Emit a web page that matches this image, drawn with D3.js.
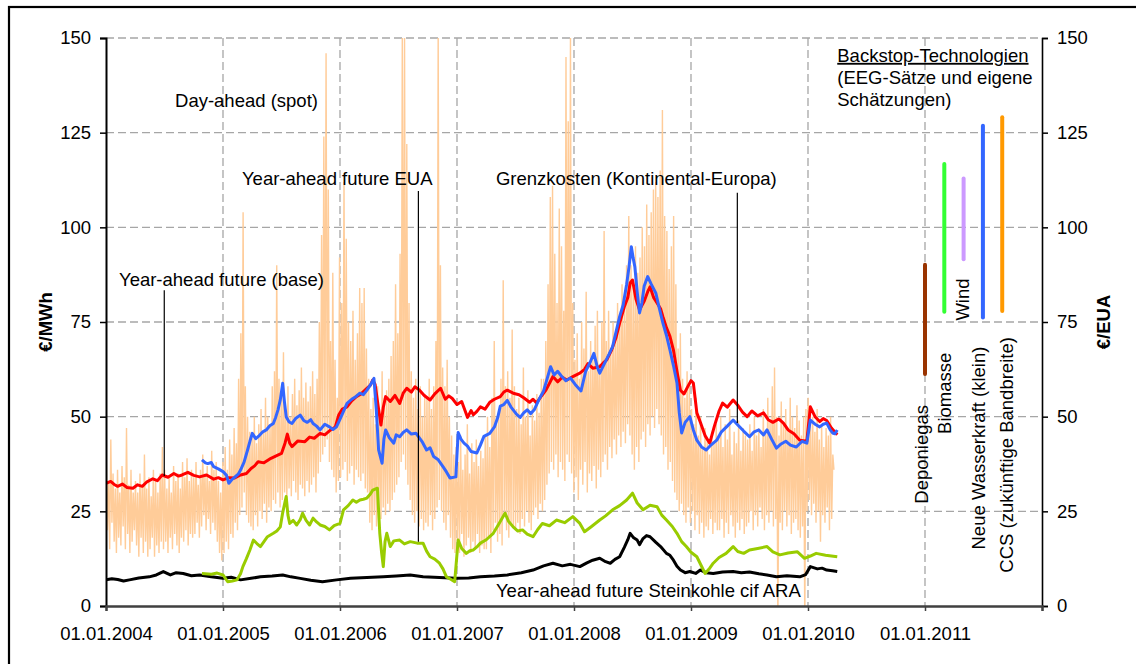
<!DOCTYPE html>
<html>
<head>
<meta charset="utf-8">
<script src="https://cdn.jsdelivr.net/npm/d3@7/dist/d3.min.js"></script>
<style>
  body { margin: 0; background: #fff; }
  svg { display: block; font-family: "Liberation Sans", Arial, sans-serif; }
</style>
</head>
<body>
<script>
// time is given as decimal years
var yearTicks = [2004, 2005, 2006, 2007, 2008, 2009, 2010, 2011, 2012];
var valueTicks = [0, 25, 50, 75, 100, 125, 150];

// Day-ahead (spot), weekly high / low, one row per quarter (2004 Q1 .. 2010 Q1)
var spotHi = [
  38, 33, 44, 35, 31, 36, 30, 37, 34, 47, 32, 36, 30,
  33, 30, 35, 32, 40, 31, 34, 29, 36, 33, 30, 35, 42,
  36, 31, 34, 30, 37, 33, 35, 31, 38, 34, 39, 33, 36,
  34, 38, 32, 36, 40, 35, 37, 33, 41, 36, 38, 33, 30,
  38, 42, 36, 44, 40, 47, 43, 60, 72, 104, 58, 50, 46,
  45, 50, 43, 48, 52, 46, 55, 50, 48, 58, 62, 90, 60,
  55, 67, 52, 58, 50, 56, 60, 53, 57, 63, 55, 59, 54,
  58, 62, 56, 60, 75, 98, 124, 146, 110, 70, 88, 65, 55,
  92, 80, 112, 97, 75, 70, 78, 65, 72, 84, 80, 84, 68,
  60, 52, 55, 48, 58, 50, 62, 55, 57, 60, 66, 70, 85,
  72, 93, 152, 150, 122, 80, 62, 55, 60, 52, 58, 50, 56,
  55, 60, 52, 58, 70, 152, 90, 63, 58, 65, 50, 45, 40,
  42, 38, 45, 36, 40, 48, 35, 43, 38, 44, 37, 41, 39,
  45, 50, 42, 55, 70, 48, 52, 60, 86, 58, 62, 55, 73,
  58, 52, 55, 48, 63, 50, 57, 45, 53, 49, 56, 51, 60,
  60, 70, 85, 108, 111, 93, 80, 105, 95, 78, 145, 128, 151,
  80, 65, 72, 60, 75, 68, 83, 62, 70, 66, 74, 78, 64,
  75, 99, 70, 78, 68, 75, 72, 80, 76, 85, 78, 90, 103,
  90, 85, 95, 88, 92, 100, 95, 106, 98, 104, 110, 112, 108,
  115, 131, 103, 99, 89, 95, 103, 85, 68, 72, 60, 55, 62,
  58, 52, 48, 55, 45, 50, 42, 47, 44, 40, 46, 43, 48,
  45, 50, 42, 48, 44, 52, 40, 46, 43, 49, 41, 47, 45,
  44, 48, 41, 50, 45, 47, 42, 52, 46, 55, 49, 58, 63,
  50, 45, 54, 48, 52, 46, 55, 50, 47, 53, 49, 45, 50,
  52, 55, 48, 50, 46, 52, 44, 48, 42, 47, 45, 50, 40
];
var spotLo = [
  20, 15, 22, 17, 14, 18, 16, 21, 15, 19, 14, 17, 20,
  16, 13, 18, 14, 17, 13, 15, 18, 13, 16, 14, 17, 15,
  17, 14, 18, 15, 19, 16, 14, 18, 17, 20, 16, 19, 18,
  19, 22, 18, 21, 24, 20, 23, 19, 22, 20, 17, 14, 12,
  14, 17, 15, 19, 18, 22, 20, 24, 26, 30, 24, 22, 21,
  20, 24, 21, 25, 23, 27, 22, 26, 25, 28, 27, 30, 26,
  28, 30, 27, 31, 29, 33, 30, 28, 32, 31, 29, 33, 30,
  32, 34, 30, 35, 38, 40, 42, 44, 38, 36, 34, 30, 33,
  34, 36, 38, 33, 35, 37, 32, 36, 34, 33, 35, 31, 30,
  22, 20, 24, 21, 25, 23, 26, 24, 27, 25, 28, 30, 32,
  34, 38, 40, 36, 32, 28, 24, 22, 25, 21, 23, 20, 22,
  21, 24, 20, 23, 26, 28, 25, 22, 20, 24, 18, 15, 14,
  17, 14, 19, 13, 16, 18, 14, 17, 15, 19, 14, 16, 15,
  15, 18, 14, 20, 22, 17, 19, 16, 24, 20, 18, 22, 21,
  20, 22, 19, 23, 21, 25, 22, 20, 24, 26, 23, 27, 25,
  28, 32, 35, 38, 36, 40, 34, 38, 36, 33, 40, 38, 35,
  30, 34, 28, 36, 32, 38, 30, 35, 33, 37, 31, 36, 34,
  38, 40, 36, 42, 39, 44, 40, 45, 42, 46, 43, 48, 45,
  40, 36, 42, 38, 44, 46, 42, 48, 45, 50, 47, 52, 48,
  45, 40, 42, 36, 38, 33, 30, 28, 25, 27, 24, 22, 26,
  22, 25, 20, 24, 19, 22, 18, 21, 20, 23, 19, 22, 20,
  20, 23, 18, 22, 19, 24, 21, 18, 22, 20, 23, 19, 21,
  22, 25, 20, 24, 21, 26, 23, 20, 24, 22, 25, 21, 23,
  -5, 22, 20, 25, 21, 24, 19, 22, 23, 20, 18, 21, -5,
  25, 28, 24, 27, 22, 25, 17, 24, 22, 26, 20, 23, 36
];

// Year-ahead future (base), €/MWh
var baseFuture = [
  [2004.00, 32.4], [2004.04, 32.9], [2004.07, 32.1], [2004.10, 31.6], [2004.14, 32.2], [2004.18, 31.3],
  [2004.23, 31.1], [2004.27, 32.0], [2004.31, 31.6], [2004.35, 32.8], [2004.40, 33.6], [2004.44, 33.1],
  [2004.48, 34.6], [2004.53, 34.0], [2004.58, 35.0], [2004.62, 34.3], [2004.65, 34.6], [2004.70, 35.3],
  [2004.75, 34.5], [2004.80, 34.1], [2004.86, 34.6], [2004.92, 33.5], [2004.96, 33.9], [2005.00, 33.3],
  [2005.05, 33.9], [2005.10, 33.8], [2005.15, 34.6], [2005.20, 35.0], [2005.24, 36.3], [2005.27, 37.0],
  [2005.30, 38.1], [2005.35, 37.8], [2005.41, 39.0], [2005.45, 39.6], [2005.50, 40.3], [2005.53, 43.0],
  [2005.55, 45.4], [2005.57, 43.0], [2005.59, 42.1], [2005.64, 43.6], [2005.70, 43.4], [2005.74, 44.6],
  [2005.78, 44.3], [2005.83, 45.6], [2005.87, 45.2], [2005.92, 46.5], [2005.96, 47.3], [2005.99, 50.5],
  [2006.02, 52.0], [2006.06, 52.6], [2006.10, 54.2], [2006.14, 55.3], [2006.18, 56.0], [2006.23, 57.5],
  [2006.26, 58.3], [2006.28, 59.7], [2006.30, 58.5], [2006.33, 52.0], [2006.35, 47.8], [2006.37, 52.5],
  [2006.39, 55.3], [2006.43, 54.0], [2006.47, 55.6], [2006.51, 53.5], [2006.54, 56.2], [2006.57, 57.5],
  [2006.61, 56.5], [2006.64, 57.9], [2006.68, 57.0], [2006.72, 55.6], [2006.77, 54.4], [2006.81, 56.0],
  [2006.86, 57.5], [2006.90, 54.6], [2006.93, 55.5], [2006.96, 54.8], [2007.00, 53.2], [2007.04, 54.0],
  [2007.07, 51.5], [2007.09, 49.8], [2007.12, 51.6], [2007.14, 50.5], [2007.17, 51.4], [2007.20, 52.6],
  [2007.24, 52.0], [2007.28, 53.8], [2007.32, 54.6], [2007.37, 55.3], [2007.40, 56.5], [2007.43, 57.0],
  [2007.48, 56.2], [2007.53, 55.8], [2007.57, 55.0], [2007.62, 53.8], [2007.65, 54.6], [2007.68, 53.6],
  [2007.72, 55.4], [2007.76, 57.0], [2007.79, 58.8], [2007.82, 60.6], [2007.86, 59.2], [2007.90, 60.4],
  [2007.94, 59.7], [2007.99, 60.6], [2008.05, 61.5], [2008.09, 62.5], [2008.12, 64.0], [2008.16, 62.8],
  [2008.22, 63.2], [2008.25, 64.2], [2008.28, 65.0], [2008.32, 67.5], [2008.36, 71.0], [2008.39, 74.7],
  [2008.43, 79.0], [2008.46, 81.5], [2008.48, 85.3], [2008.50, 86.1], [2008.53, 81.0], [2008.56, 78.2],
  [2008.60, 80.5], [2008.63, 83.0], [2008.65, 84.3], [2008.68, 81.5], [2008.71, 80.0], [2008.74, 78.5],
  [2008.76, 76.4], [2008.79, 73.5], [2008.82, 71.2], [2008.85, 67.6], [2008.88, 62.0], [2008.91, 57.0],
  [2008.94, 56.0], [2008.97, 57.8], [2009.00, 59.5], [2009.02, 58.9], [2009.05, 51.0], [2009.08, 48.5],
  [2009.12, 45.0], [2009.16, 43.0], [2009.20, 47.5], [2009.24, 51.5], [2009.27, 53.6], [2009.31, 52.5],
  [2009.36, 54.4], [2009.40, 53.0], [2009.44, 51.2], [2009.48, 50.0], [2009.52, 51.5], [2009.57, 50.2],
  [2009.62, 51.0], [2009.66, 49.2], [2009.70, 48.5], [2009.75, 49.4], [2009.79, 48.3], [2009.83, 46.5],
  [2009.88, 45.5], [2009.93, 43.8], [2009.99, 43.5], [2010.02, 52.6], [2010.06, 50.0], [2010.10, 48.7],
  [2010.13, 49.5], [2010.16, 49.0], [2010.20, 47.0], [2010.25, 45.2]
];

// Grenzkosten (Kontinental-Europa)
var marginalCost = [
  [2004.82, 38.6], [2004.85, 37.8], [2004.87, 37.6], [2004.90, 37.9], [2004.92, 36.8], [2004.96, 36.2],
  [2005.00, 35.5], [2005.03, 34.5], [2005.05, 32.4], [2005.08, 33.5], [2005.10, 34.0], [2005.13, 34.8],
  [2005.15, 35.9], [2005.18, 38.0], [2005.21, 41.2], [2005.23, 43.5], [2005.25, 45.6], [2005.28, 44.2],
  [2005.31, 45.0], [2005.34, 46.0], [2005.37, 46.5], [2005.40, 47.6], [2005.43, 48.2], [2005.45, 49.8],
  [2005.47, 51.8], [2005.49, 54.5], [2005.51, 58.8], [2005.525, 54.0], [2005.54, 50.0], [2005.565, 48.6],
  [2005.59, 48.2], [2005.62, 49.5], [2005.66, 50.4], [2005.69, 49.0], [2005.72, 48.5], [2005.75, 49.2],
  [2005.77, 48.2], [2005.80, 47.5], [2005.83, 46.5], [2005.87, 48.0], [2005.91, 47.3], [2005.94, 46.6],
  [2005.97, 47.3], [2006.01, 50.0], [2006.06, 53.5], [2006.10, 54.6], [2006.14, 55.4], [2006.17, 56.2],
  [2006.20, 55.8], [2006.23, 57.0], [2006.26, 58.4], [2006.29, 60.1], [2006.31, 52.0], [2006.33, 41.2],
  [2006.36, 37.7], [2006.375, 44.0], [2006.39, 46.5], [2006.42, 44.5], [2006.46, 43.0], [2006.48, 45.2],
  [2006.51, 44.7], [2006.54, 45.8], [2006.57, 46.5], [2006.61, 45.4], [2006.65, 45.6], [2006.70, 43.5],
  [2006.74, 41.2], [2006.77, 41.8], [2006.80, 39.5], [2006.84, 38.6], [2006.88, 36.8], [2006.91, 35.4],
  [2006.94, 33.8], [2006.99, 34.1], [2007.01, 45.8], [2007.035, 44.0], [2007.06, 43.0], [2007.09, 42.2],
  [2007.12, 40.8], [2007.17, 40.4], [2007.20, 42.5], [2007.23, 44.8], [2007.28, 45.6], [2007.32, 47.3],
  [2007.35, 50.0], [2007.37, 52.8], [2007.40, 53.2], [2007.43, 54.3], [2007.46, 52.6], [2007.48, 51.8],
  [2007.51, 50.6], [2007.54, 49.8], [2007.57, 51.0], [2007.60, 51.8], [2007.63, 50.8], [2007.66, 51.8],
  [2007.70, 54.5], [2007.74, 56.8], [2007.77, 60.0], [2007.80, 63.2], [2007.83, 61.0], [2007.86, 62.0],
  [2007.89, 60.8], [2007.93, 59.5], [2007.97, 60.2], [2008.01, 58.5], [2008.06, 56.8], [2008.10, 62.0],
  [2008.14, 64.5], [2008.17, 66.7], [2008.20, 63.0], [2008.22, 61.5], [2008.26, 64.0], [2008.30, 66.5],
  [2008.33, 68.5], [2008.36, 72.5], [2008.39, 76.4], [2008.42, 79.5], [2008.45, 85.0], [2008.47, 89.5],
  [2008.49, 94.9], [2008.505, 92.0], [2008.52, 89.6], [2008.54, 83.0], [2008.56, 77.4], [2008.58, 80.0],
  [2008.60, 84.5], [2008.63, 87.0], [2008.66, 85.0], [2008.70, 82.6], [2008.73, 78.5], [2008.76, 74.7],
  [2008.79, 71.5], [2008.82, 67.6], [2008.85, 63.5], [2008.88, 58.9], [2008.90, 51.0], [2008.92, 45.7],
  [2008.95, 48.5], [2008.99, 50.0], [2009.02, 46.5], [2009.05, 43.8], [2009.09, 42.0], [2009.13, 41.2],
  [2009.17, 42.5], [2009.22, 43.8], [2009.26, 46.0], [2009.31, 47.5], [2009.36, 49.1], [2009.40, 47.8],
  [2009.45, 46.2], [2009.50, 44.7], [2009.54, 46.0], [2009.58, 46.5], [2009.62, 45.2], [2009.65, 46.5],
  [2009.69, 44.0], [2009.73, 41.7], [2009.77, 42.8], [2009.81, 43.5], [2009.85, 42.5], [2009.90, 42.0],
  [2009.95, 43.5], [2009.99, 43.0], [2010.02, 49.1], [2010.06, 48.0], [2010.10, 47.3], [2010.13, 48.0],
  [2010.16, 48.3], [2010.19, 46.5], [2010.21, 45.7], [2010.23, 45.5], [2010.25, 46.5]
];

// Year-ahead future EUA, €/EUA
var euaFuture = [
  [2004.82, 8.6], [2004.90, 8.4], [2004.95, 8.7], [2005.00, 8.2], [2005.04, 6.4], [2005.08, 6.6],
  [2005.12, 6.9], [2005.15, 8.5], [2005.17, 10.4], [2005.20, 12.5], [2005.23, 14.8], [2005.26, 17.4],
  [2005.29, 16.5], [2005.32, 15.7], [2005.35, 17.0], [2005.38, 18.3], [2005.43, 19.2], [2005.46, 19.8],
  [2005.49, 20.9], [2005.51, 24.6], [2005.54, 28.9], [2005.555, 24.0], [2005.57, 21.8], [2005.60, 22.6],
  [2005.63, 21.4], [2005.66, 22.8], [2005.68, 24.5], [2005.71, 22.6], [2005.74, 21.4], [2005.77, 23.2],
  [2005.80, 22.2], [2005.83, 21.4], [2005.87, 21.0], [2005.91, 20.1], [2005.95, 21.2], [2006.00, 21.8],
  [2006.03, 25.4], [2006.07, 26.5], [2006.11, 28.0], [2006.14, 27.4], [2006.17, 28.0], [2006.20, 28.2],
  [2006.23, 28.5], [2006.26, 29.6], [2006.28, 30.6], [2006.32, 31.1], [2006.34, 19.2], [2006.356, 14.0],
  [2006.37, 10.4], [2006.385, 17.0], [2006.40, 19.2], [2006.43, 15.7], [2006.46, 17.2], [2006.51, 17.4],
  [2006.55, 16.4], [2006.60, 17.0], [2006.66, 16.6], [2006.71, 16.6], [2006.74, 14.5], [2006.77, 13.0],
  [2006.81, 12.4], [2006.85, 11.3], [2006.88, 9.8], [2006.91, 7.7], [2006.95, 7.0], [2006.98, 6.4],
  [2007.01, 17.4], [2007.04, 15.2], [2007.08, 13.9], [2007.11, 14.6], [2007.14, 14.8], [2007.17, 15.6],
  [2007.20, 16.6], [2007.25, 17.5], [2007.31, 19.2], [2007.36, 21.8], [2007.41, 24.5], [2007.44, 22.4],
  [2007.48, 20.9], [2007.52, 19.8], [2007.56, 20.1], [2007.60, 19.0], [2007.65, 18.3], [2007.69, 20.2],
  [2007.73, 21.8], [2007.79, 21.2], [2007.85, 22.7], [2007.92, 22.0], [2007.99, 23.6], [2008.05, 21.8],
  [2008.09, 19.6], [2008.15, 21.0], [2008.22, 22.7], [2008.27, 23.8], [2008.33, 25.4], [2008.39, 26.5],
  [2008.45, 28.0], [2008.50, 29.8], [2008.54, 27.2], [2008.59, 25.4], [2008.65, 26.6], [2008.71, 26.2],
  [2008.75, 24.0], [2008.79, 22.7], [2008.84, 21.0], [2008.88, 19.2], [2008.92, 17.0], [2008.96, 15.7],
  [2009.00, 14.2], [2009.05, 13.0], [2009.09, 10.5], [2009.12, 8.6], [2009.16, 10.0], [2009.19, 11.3],
  [2009.24, 12.8], [2009.30, 13.9], [2009.36, 15.7], [2009.40, 14.4], [2009.45, 13.9], [2009.50, 14.8],
  [2009.57, 15.2], [2009.65, 15.7], [2009.70, 14.3], [2009.76, 13.5], [2009.83, 14.0], [2009.91, 14.3],
  [2009.97, 12.6], [2010.02, 13.2], [2010.07, 13.9], [2010.15, 13.4], [2010.25, 13.0]
];

// Year-ahead future Steinkohle cif ARA
var coalFuture = [
  [2004.00, 6.9], [2004.05, 7.2], [2004.10, 7.0], [2004.15, 6.6], [2004.20, 6.9], [2004.28, 7.4],
  [2004.37, 7.7], [2004.43, 8.2], [2004.49, 9.1], [2004.55, 8.2], [2004.60, 8.8], [2004.66, 8.6],
  [2004.73, 8.0], [2004.80, 8.2], [2004.90, 7.7], [2005.00, 7.3], [2005.07, 7.6], [2005.15, 6.9],
  [2005.24, 7.3], [2005.32, 7.7], [2005.42, 7.9], [2005.51, 8.2], [2005.58, 7.7], [2005.66, 7.3],
  [2005.75, 6.8], [2005.85, 6.4], [2005.97, 6.9], [2006.09, 7.3], [2006.23, 7.5], [2006.37, 7.7],
  [2006.48, 7.9], [2006.60, 8.2], [2006.71, 7.7], [2006.85, 7.5], [2006.99, 7.3], [2007.10, 7.4],
  [2007.20, 7.7], [2007.32, 7.9], [2007.43, 8.2], [2007.55, 8.8], [2007.65, 9.5], [2007.74, 10.6],
  [2007.82, 11.3], [2007.90, 10.6], [2007.97, 11.0], [2008.05, 10.4], [2008.11, 11.4], [2008.16, 12.1],
  [2008.22, 12.6], [2008.27, 11.7], [2008.31, 11.3], [2008.35, 12.3], [2008.39, 13.0], [2008.43, 15.5],
  [2008.46, 17.5], [2008.48, 19.2], [2008.51, 18.0], [2008.54, 17.4], [2008.56, 16.2], [2008.59, 17.8],
  [2008.62, 18.6], [2008.65, 18.3], [2008.70, 16.8], [2008.74, 15.7], [2008.79, 13.9], [2008.82, 13.4],
  [2008.85, 12.1], [2008.88, 10.5], [2008.91, 9.5], [2008.95, 8.8], [2008.99, 9.1], [2009.04, 8.6],
  [2009.08, 9.5], [2009.13, 8.8], [2009.19, 8.6], [2009.27, 9.0], [2009.36, 9.1], [2009.43, 8.8],
  [2009.50, 9.0], [2009.58, 8.5], [2009.65, 8.2], [2009.73, 7.7], [2009.82, 8.0], [2009.93, 7.7],
  [2009.98, 8.3], [2010.02, 10.4], [2010.08, 9.8], [2010.12, 10.0], [2010.16, 9.5], [2010.21, 9.3],
  [2010.25, 9.1]
];

// Backstop-Technologien: position (decimal year), low, high
var backstopNames = ["Deponiegas", "Biomasse", "Wind", "Neue Wasserkraft (klein)", "CCS (zukünftige Bandbreite)"];
var backstopYears = [2011.0, 2011.165, 2011.33, 2011.495, 2011.66];
var backstopLow = [61.3, 77.7, 91.6, 76.2, 77.9];
var backstopHigh = [90.1, 116.7, 112.9, 126.8, 129.1];
var backstopColors = ["#993300", "#33ff33", "#cc99ff", "#3366ff", "#ff9900"];

var W = 1136, H = 664;
var plotL = 106, plotR = 1042, plotT = 38, plotB = 606;

var svg = d3.select("body").append("svg")
    .attr("width", W)
    .attr("height", H);

// outer frame (only top and left edge are inside the picture)
svg.append("rect")
    .attr("x", 9).attr("y", 7)
    .attr("width", 1200).attr("height", 700)
    .attr("fill", "none").attr("stroke", "#000").attr("stroke-width", 2.2);

var x = d3.scaleLinear().domain([2004, 2012]).range([plotL, plotR]);
var y = d3.scaleLinear().domain([0, 150]).range([plotB, plotT]);

svg.append("clipPath").attr("id", "plot")
    .append("rect")
    .attr("x", plotL).attr("y", plotT)
    .attr("width", plotR - plotL).attr("height", plotB - plotT);

// grid
var grid = svg.append("g").attr("stroke", "#a6a6a6").attr("stroke-width", 1.3)
    .attr("stroke-dasharray", "8,4");
grid.selectAll("line.h").data(valueTicks.slice(1)).enter().append("line")
    .attr("x1", plotL).attr("x2", plotR)
    .attr("y1", function (d) { return y(d); })
    .attr("y2", function (d) { return y(d); });
grid.selectAll("line.v").data(yearTicks.slice(1, -1)).enter().append("line")
    .attr("y1", plotT).attr("y2", plotB)
    .attr("x1", function (d) { return x(d); })
    .attr("x2", function (d) { return x(d); });

// spot as a weekly zigzag between high and low
var spot = [];
for (var i = 0; i < spotHi.length; i++) {
    spot.push([2004 + (i * 7 + 1) / 365.25, spotHi[i]]);
    spot.push([2004 + (i * 7 + 4.5) / 365.25, spotLo[i]]);
}

var line = d3.line()
    .x(function (d) { return x(d[0]); })
    .y(function (d) { return y(d[1]); });

var plot = svg.append("g").attr("clip-path", "url(#plot)");

plot.append("path").datum(spot)
    .attr("d", line)
    .attr("fill", "none").attr("stroke", "#ffcc99").attr("stroke-width", 1.4);

var series = [
    {data: coalFuture, color: "#000000"},
    {data: euaFuture, color: "#99cc00"},
    {data: baseFuture, color: "#ff0000"},
    {data: marginalCost, color: "#3366ff"}
];
series.forEach(function (s) {
    plot.append("path").datum(s.data)
        .attr("d", line)
        .attr("fill", "none")
        .attr("stroke", s.color)
        .attr("stroke-width", 3)
        .attr("stroke-linejoin", "round");
});

// backstop bars
svg.selectAll("line.backstop").data(backstopYears).enter().append("line")
    .attr("x1", function (d) { return x(d); })
    .attr("x2", function (d) { return x(d); })
    .attr("y1", function (d, i) { return y(backstopLow[i]); })
    .attr("y2", function (d, i) { return y(backstopHigh[i]); })
    .attr("stroke", function (d, i) { return backstopColors[i]; })
    .attr("stroke-width", 4)
    .attr("stroke-linecap", "round");

// axes
var fontSize = "18.5px";

var yLeft = svg.append("g").attr("transform", "translate(" + plotL + ",0)")
    .call(d3.axisLeft(y).tickValues(valueTicks).tickSize(6).tickPadding(9));
var yRight = svg.append("g").attr("transform", "translate(" + plotR + ",0)")
    .call(d3.axisRight(y).tickValues(valueTicks).tickSize(6).tickPadding(9));
var xAxis = svg.append("g").attr("transform", "translate(0," + plotB + ")")
    .call(d3.axisBottom(x).tickValues(yearTicks).tickSize(5)
        .tickFormat(function (d) { return d < 2012 ? "01.01." + d : ""; }));

[yLeft, yRight, xAxis].forEach(function (g) {
    g.attr("font-size", null).attr("font-family", null);
    g.selectAll("text").style("font-size", fontSize).attr("fill", "#000");
});
yLeft.select(".domain").attr("stroke", "#000").attr("stroke-width", 2);
yRight.select(".domain").attr("stroke", "#000").attr("stroke-width", 1.6);
xAxis.select(".domain").attr("stroke", "#404040").attr("stroke-width", 2.4);
xAxis.selectAll(".tick line").attr("stroke", "#404040").attr("stroke-width", 1.5);
xAxis.selectAll("text").attr("y", 34).attr("dy", null);
yLeft.selectAll(".tick line").attr("stroke-width", 1.5);
yRight.selectAll(".tick line").attr("stroke-width", 1.5);

// axis titles
svg.append("text")
    .attr("transform", "translate(52," + ((plotT + plotB) / 2) + ") rotate(-90)")
    .attr("text-anchor", "middle").style("font-size", fontSize).attr("font-weight", "bold")
    .text("€/MWh");
svg.append("text")
    .attr("transform", "translate(1110," + ((plotT + plotB) / 2) + ") rotate(-90)")
    .attr("text-anchor", "middle").style("font-size", fontSize).attr("font-weight", "bold")
    .text("€/EUA");

// annotations: [text, year, value]
var notes = [
    ["Day-ahead (spot)", 2004.59, 131.8],
    ["Year-ahead future EUA", 2005.162, 111.3],
    ["Grenzkosten (Kontinental-Europa)", 2007.333, 111.3],
    ["Year-ahead future (base)", 2004.111, 84.5],
    ["Year-ahead future Steinkohle cif ARA", 2007.333, 2.4]
];
svg.selectAll("text.note").data(notes).enter().append("text")
    .attr("class", "note")
    .attr("x", function (d) { return x(d[1]); })
    .attr("y", function (d) { return y(d[2]); })
    .style("font-size", fontSize)
    .text(function (d) { return d[0]; });

// leader lines: [year, from, to]
var leaders = [
    [2006.67, 109.6, 17.0],
    [2009.396, 109.1, 48.3],
    [2004.498, 83.4, 34.3]
];
svg.selectAll("line.leader").data(leaders).enter().append("line")
    .attr("x1", function (d) { return x(d[0]); })
    .attr("x2", function (d) { return x(d[0]); })
    .attr("y1", function (d) { return y(d[1]); })
    .attr("y2", function (d) { return y(d[2]); })
    .attr("stroke", "#000").attr("stroke-width", 1.2);

// backstop heading
var head = svg.append("text").style("font-size", fontSize);
head.append("tspan").attr("x", x(2010.25)).attr("y", y(143.7))
    .attr("text-decoration", "underline").text("Backstop-Technologien");
head.append("tspan").attr("x", x(2010.25)).attr("y", y(137.9)).text("(EEG-Sätze und eigene");
head.append("tspan").attr("x", x(2010.25)).attr("y", y(132.0)).text("Schätzungen)");

// rotated backstop labels: baseline year, top value
var labelYears = [2011.026, 2011.222, 2011.376, 2011.51, 2011.752];
var labelTops = [53.1, 66.9, 86.5, 68.5, 71.0];
svg.selectAll("text.bs").data(backstopNames).enter().append("text")
    .attr("class", "bs")
    .attr("transform", function (d, i) {
        return "translate(" + x(labelYears[i]) + "," + y(labelTops[i]) + ") rotate(-90)";
    })
    .attr("text-anchor", "end")
    .style("font-size", fontSize)
    .text(function (d) { return d; });
</script>
</body>
</html>
